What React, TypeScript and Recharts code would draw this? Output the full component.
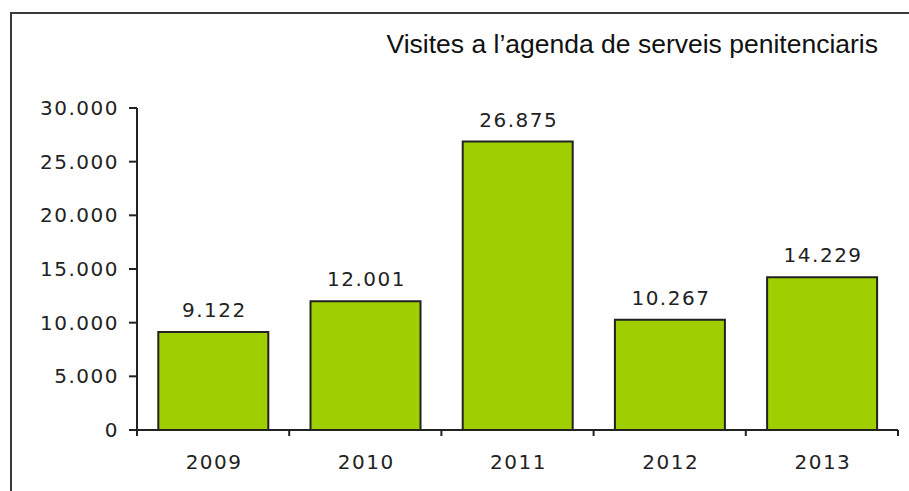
import React from 'react';
import { BarChart, Bar, XAxis, YAxis, LabelList } from 'recharts';

const years = ['2009', '2010', '2011', '2012', '2013'];
const visits = [9122, 12001, 26875, 10267, 14229];
const yTicks = [0, 5000, 10000, 15000, 20000, 25000, 30000];
const title = 'Visites a l\u2019agenda de serveis penitenciaris';

const data = years.map((year, i) => ({ year, visits: visits[i] }));

const fmt = (v: number) => v.toLocaleString('de-DE');

const tickFont = { fontFamily: '"DejaVu Sans", sans-serif', fontSize: 20, letterSpacing: 1.5 };
const ink = '#222';

const XTick = (props: any) => {
  const { x, y, payload, index } = props;
  const half = payload.offset || 0;
  return (
    <g>
      {index === 0 && <line x1={x - half} y1={y} x2={x - half} y2={y + 6} stroke={ink} strokeWidth={2} />}
      <line x1={x + half} y1={y} x2={x + half} y2={y + 6} stroke={ink} strokeWidth={2} />
      <text x={x + 1} y={y + 39} textAnchor="middle" fill={ink} style={tickFont}>
        {payload.value}
      </text>
    </g>
  );
};

const BarLabel = (props: any) => {
  const { x, y, width, value } = props;
  return (
    <text x={x + width / 2 + 1} y={y - 15} textAnchor="middle" fill={ink} style={tickFont}>
      {fmt(value)}
    </text>
  );
};

export default function App() {
  return (
    <div style={{ position: 'absolute', left: 0, top: 0, width: 909, height: 491, overflow: 'hidden', background: '#fff' }}>
      <div
        style={{
          position: 'absolute',
          left: 10,
          top: 12,
          width: 1000,
          height: 600,
          border: '2px solid #3a3a3a',
        }}
      />
      <BarChart
        width={909}
        height={491}
        data={data}
        margin={{ top: 108, right: 11, bottom: 0, left: 0 }}
        barCategoryGap="14%"
        style={{ position: 'absolute', left: 0, top: 0 }}
      >
        <text x={878} y={53} textAnchor="end" fill="#111" style={{ fontFamily: '"Liberation Sans", Arial, sans-serif', fontSize: 26.5 }}>
          {title}
        </text>
        <XAxis
          dataKey="year"
          height={61}
          tickLine={false}
          tickSize={0}
          tickMargin={0}
          axisLine={{ stroke: ink, strokeWidth: 2 }}
          tick={<XTick />}
          interval={0}
        />
        <YAxis
          width={137}
          domain={[0, 30000]}
          ticks={yTicks}
          interval={0}
          tickFormatter={fmt}
          tickSize={8}
          tickMargin={10}
          tickLine={{ stroke: ink, strokeWidth: 2 }}
          axisLine={{ stroke: ink, strokeWidth: 2 }}
          tick={{ fill: ink, ...tickFont }}
        />
        <Bar dataKey="visits" fill="#9fcf00" stroke={ink} strokeWidth={2} isAnimationActive={false}>
          <LabelList dataKey="visits" content={<BarLabel />} />
        </Bar>
      </BarChart>
    </div>
  );
}
